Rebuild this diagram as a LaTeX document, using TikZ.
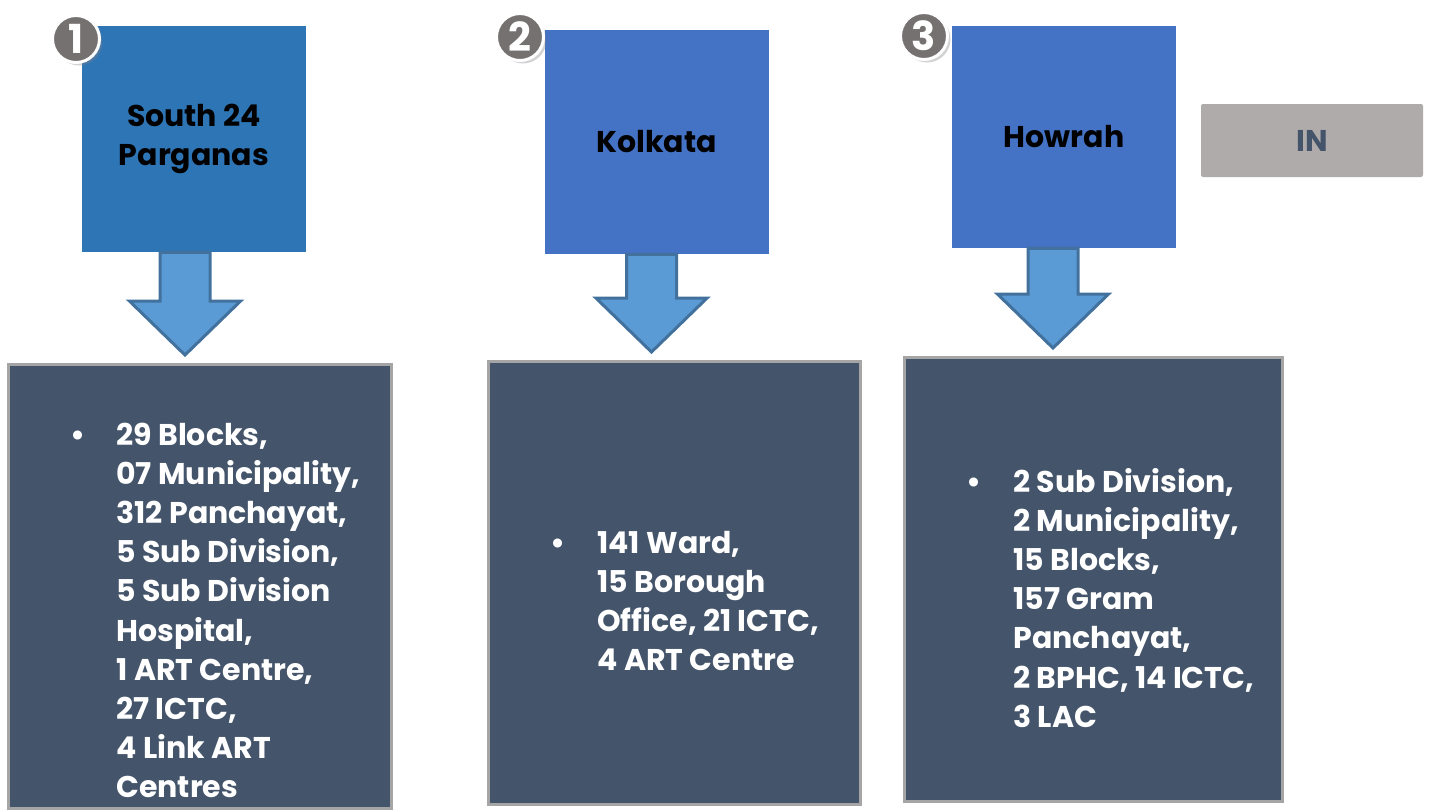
\documentclass[tikz,border=0pt]{standalone}
\usepackage{fontspec}
\setmainfont{Poppins}
\usetikzlibrary{calc, shadows}

\definecolor{southblue}{HTML}{2E75B6}
\definecolor{cityblue}{HTML}{4472C4}
\definecolor{slate}{HTML}{44546A}
\definecolor{edgegray}{HTML}{A5A5A5}
\definecolor{arrowfill}{HTML}{5B9BD5}
\definecolor{arrowedge}{HTML}{41719C}
\definecolor{tagfill}{HTML}{AFABAB}
\definecolor{numgray}{HTML}{767171}

% #1 from, #2 to, #3 x offset
\newcommand{\fatarrow}[3]{%
  \draw[bigarrow] let \p1=(#1.south), \p2=(#2.north) in
    ({\x1+(#3)-12.5pt},\y1) -- ({\x1+(#3)+12.5pt},\y1) -- ({\x1+(#3)+12.5pt},{\y2+31pt})
    -- ({\x1+(#3)+27.8pt},{\y2+31pt}) -- ({\x1+(#3)},{\y2+4pt}) -- ({\x1+(#3)-27.8pt},{\y2+31pt})
    -- ({\x1+(#3)-12.5pt},{\y2+31pt}) -- cycle;}

\begin{document}
\begin{tikzpicture}[
        x=0.5pt, y=-0.5pt,
        district/.style={rectangle, fill=#1, inner sep=0pt, minimum width=112pt, align=center, font=\bfseries\fontsize{15}{19.5}\selectfont},
        infobox/.style={rectangle, fill=slate, draw=edgegray, line width=1.5pt, inner sep=0pt},
        listtext/.style={anchor=base west, inner sep=0pt, text=white, font=\bfseries\fontsize{15}{19.6}\selectfont},
        number/.style={circle, fill=numgray, draw=white, line width=1.5pt, minimum size=23.5pt, inner sep=0pt, text=white, font=\bfseries\fontsize{20}{20}\selectfont, drop shadow={opacity=0.35, shadow xshift=1.5pt, shadow yshift=-1.5pt}},
        bigarrow/.style={fill=arrowfill, draw=arrowedge, line width=1.5pt, line join=miter},
        tag/.style={rectangle, rounded corners=1pt, fill=tagfill, text=slate, minimum width=111pt, minimum height=36.5pt, font=\bfseries\fontsize{15}{17.5}\selectfont},
    ]
        \useasboundingbox (0,0) rectangle (1432,811);

        \node[infobox, minimum width=191.5pt, minimum height=222pt] (south_info) at (200,586.5) {};
        \node[infobox, minimum width=186pt, minimum height=221.5pt] (kolkata_info) at (674.5,583) {};
        \node[infobox, minimum width=189pt, minimum height=222pt] (howrah_info) at (1093.5,579.5) {};

        \node[district=southblue, minimum height=113pt] (south) at (194,139) {South 24\\Parganas};
        \node[district=cityblue, minimum height=112pt] (kolkata) at (656.5,142) {Kolkata};
        \node[district=cityblue, minimum height=111pt] (howrah) at (1064,137) {Howrah};
        \node[tag] (in) at (1312,140.5) {IN};

        \fatarrow{south}{south_info}{-4.5pt}
        \fatarrow{kolkata}{kolkata_info}{-2.5pt}
        \fatarrow{howrah}{howrah_info}{-5.5pt}

        \node[number] (num1) at (76,39) {1};
        \node[number] (num2) at (520,37) {2};
        \node[number] (num3) at (924,36) {3};

        \node[listtext] (south_list) at (70,445) {\begin{tabular}[t]{@{}l@{}l@{}}
            \makebox[23pt][l]{\textbullet} & 29 Blocks,\\
            & 07 Municipality,\\
            & 312 Panchayat,\\
            & 5 Sub Division,\\
            & 5 Sub Division\\
            & Hospital,\\
            & 1 ART Centre,\\
            & 27 ICTC,\\
            & 4 Link ART\\
            & Centres
        \end{tabular}};
        \node[listtext] (kolkata_list) at (550,553) {\begin{tabular}[t]{@{}l@{}l@{}}
            \makebox[23.5pt][l]{\textbullet} & 141 Ward,\\
            & 15 Borough\\
            & Office, 21 ICTC,\\
            & 4 ART Centre
        \end{tabular}};
        \node[listtext] (howrah_list) at (966,492) {\begin{tabular}[t]{@{}l@{}l@{}}
            \makebox[23.5pt][l]{\textbullet} & 2 Sub Division,\\
            & 2 Municipality,\\
            & 15 Blocks,\\
            & 157 Gram\\
            & Panchayat,\\
            & 2 BPHC, 14 ICTC,\\
            & 3 LAC
        \end{tabular}};
    \end{tikzpicture}
\end{document}
